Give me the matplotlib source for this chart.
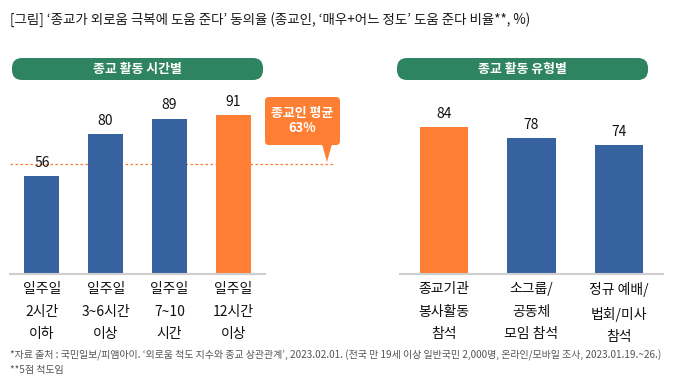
import matplotlib
matplotlib.use("Agg")
import matplotlib.pyplot as plt
from matplotlib.patches import FancyBboxPatch, Polygon
from matplotlib.transforms import Affine2D

plt.rcParams["font.family"] = ["Noto Sans CJK KR", "DejaVu Sans"]

# Data
time_labels = ["일주일\n2시간\n이하", "일주일\n3~6시간\n이상", "일주일\n7~10\n시간", "일주일\n12시간\n이상"]
time_values = [56, 80, 89, 91]
time_colors = ["#3762a0", "#3762a0", "#3762a0", "#fe7e33"]

type_labels = ["종교기관\n봉사활동\n참석", "소그룹/\n공동체\n모임 참석", "정규 예배/\n법회/미사\n참석"]
type_values = [84, 78, 74]
type_colors = ["#fe7e33", "#3762a0", "#3762a0"]

avg_value = 63

ORANGE = "#fe7e33"
GREEN = "#2e8360"
W, H = 681, 391

fig = plt.figure(figsize=(W / 100, H / 100), dpi=100)
# pixel coords, origin bottom-left
px = Affine2D().scale(1 / W, 1 / H) + fig.transFigure


def fy(y):
    # convert a "from the top" pixel value
    return H - y


def axes_rect(x0, x1, base, top):
    return [x0 / W, (H - base) / H, (x1 - x0) / W, (base - top) / H]


def draw_panel(ax, labels, values, colors):
    ax.bar(range(len(values)), values, width=0.55, color=colors, zorder=2)
    for i, v in enumerate(values):
        ax.text(i, v + 7.5, str(v), ha="center", va="center", fontsize=10, color="#111111")
    ax.set_xlim(-0.5, len(values) - 0.5)
    ax.set_ylim(0, 100)
    ax.set_xticks(range(len(values)))
    ax.set_xticklabels(labels, fontsize=10, linespacing=1.77, color="#111111")
    ax.tick_params(axis="x", length=0, pad=6)
    ax.set_yticks([])
    for s in ["top", "right", "left"]:
        ax.spines[s].set_visible(False)
    ax.spines["bottom"].set_color("#cfcfcf")
    ax.spines["bottom"].set_linewidth(1.5)


def pill(x0, x1, top, bottom, text):
    fig.patches.append(FancyBboxPatch((x0, fy(bottom)), x1 - x0, bottom - top,
                                      boxstyle="round,pad=0,rounding_size=10",
                                      transform=px, facecolor=GREEN, edgecolor="none"))
    fig.text((x0 + x1) / 2, fy((top + bottom) / 2), text, transform=px, ha="center", va="center",
             color="white", fontsize=9.3, fontweight="bold")


# Title
fig.text(10, fy(20), "[그림] ‘종교가 외로움 극복에 도움 준다’ 동의율 (종교인, ‘매우+어느 정도’ 도움 준다 비율**, %)",
         transform=px, ha="left", va="center", fontsize=9.7, color="#1a1a1a")

pill(12, 263, 58, 80, "종교 활동 시간별")
pill(397, 648, 58, 80, "종교 활동 유형별")

ax1 = fig.add_axes(axes_rect(10, 265, 274, 99.3))
draw_panel(ax1, time_labels, time_values, time_colors)
ax1.plot([-0.5, 4.6], [avg_value, avg_value], color=ORANGE, linestyle=(0, (2, 2)),
         linewidth=0.9, clip_on=False, zorder=1)

ax2 = fig.add_axes(axes_rect(400, 663, 274, 99.3))
draw_panel(ax2, type_labels, type_values, type_colors)

# Callout for the average
fig.patches.append(FancyBboxPatch((265, fy(145)), 75, 48, boxstyle="round,pad=0,rounding_size=4",
                                  transform=px, facecolor=ORANGE, edgecolor="none"))
fig.patches.append(Polygon([(322, fy(144)), (332, fy(144)), (327, fy(162))], closed=True,
                           transform=px, facecolor=ORANGE, edgecolor="none"))
fig.text(302.5, fy(113), "종교인 평균", transform=px, ha="center", va="center",
         color="white", fontsize=9.3, fontweight="bold")
fig.text(302.5, fy(128), f"{avg_value}%", transform=px, ha="center", va="center",
         color="white", fontsize=9.3, fontweight="bold")

# Footnotes
fig.text(10, fy(355), "*자료 출처 : 국민일보/피앰아이. ‘외로움 척도 지수와 종교 상관관계’, 2023.02.01. (전국 만 19세 이상 일반국민 2,000명, 온라인/모바일 조사, 2023.01.19.~26.)",
         transform=px, ha="left", va="center", fontsize=7.2, color="#555555")
fig.text(10, fy(370), "**5점 척도임", transform=px, ha="left", va="center", fontsize=7.2, color="#555555")

fig.savefig("out.png", dpi=100)
plt.close(fig)
